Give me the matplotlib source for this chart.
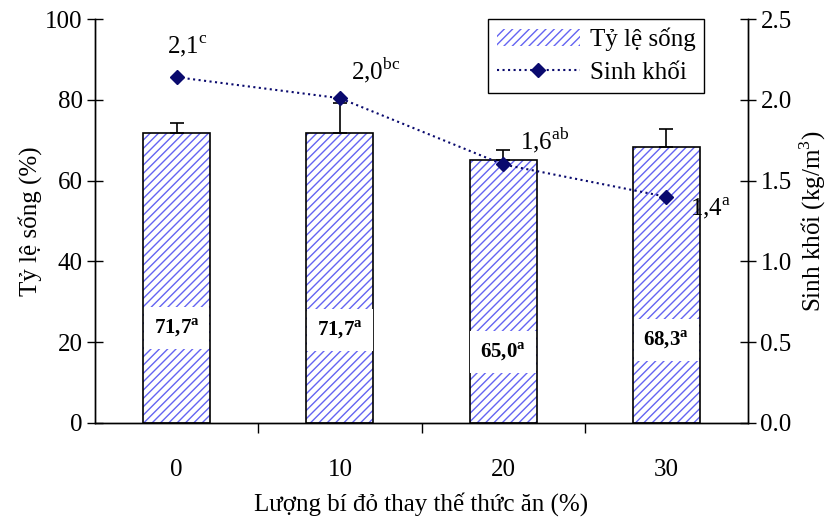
import numpy as np
import matplotlib
matplotlib.use("Agg")
from matplotlib import pyplot as plt
from matplotlib.patches import Patch
from matplotlib.lines import Line2D

plt.rcParams['font.family'] = ['Liberation Serif', 'DejaVu Serif']
plt.rcParams['mathtext.fontset'] = 'custom'
plt.rcParams['mathtext.rm'] = 'Liberation Serif'
plt.rcParams['mathtext.bf'] = 'Liberation Serif:bold'
plt.rcParams['hatch.linewidth'] = 1.0

categories = ['0', '10', '20', '30']
survival = [71.7, 71.7, 65.0, 68.3]
survival_err = [2.6, 7.5, 2.6, 4.5]
survival_text = ['71,7', '71,7', '65,0', '68,3']
survival_sig = ['a', 'a', 'a', 'a']
label_height = [23.5, 23.0, 17.6, 20.5]

biomass = [2.14, 2.01, 1.60, 1.40]
biomass_text = ['2,1', '2,0', '1,6', '1,4']
biomass_sig = ['c', 'bc', 'ab', 'a']
biomass_offset = [(8, 22), (26, 20), (30, 17), (32, -8)]

fig = plt.figure(figsize=(8.38, 5.18), dpi=100)
ax = fig.add_axes([0.1134, 0.1834, 0.7792, 0.7799])
ax2 = ax.twinx()

x = np.arange(len(categories))
w = 0.41
blue = '#6464f2'
fs = 18

ax.bar(x, survival, w, color='white', edgecolor=blue, hatch='////', linewidth=0, zorder=2)
ax.bar(x, survival, w, color='none', edgecolor='black', linewidth=1.2, zorder=3)
ax.errorbar(x, survival, yerr=[np.zeros(4), survival_err], fmt='none', ecolor='black',
            elinewidth=1.2, capsize=5, capthick=1.2, zorder=4)

for i in range(len(x)):
    ax.text(x[i], label_height[i], survival_text[i] + r'$^{\mathbf{' + survival_sig[i] + '}}$',
            ha='center', va='center', fontsize=15, fontweight='bold', zorder=5,
            bbox=dict(facecolor='white', edgecolor='none', pad=7))

ax2.plot(x, biomass, linestyle=':', color='#0a0a6e', linewidth=1.5, marker='D',
         markersize=7, zorder=6)
for i in range(len(x)):
    ax2.annotate(biomass_text[i] + r'$^{\mathrm{' + biomass_sig[i] + '}}$', (x[i], biomass[i]),
                 xytext=biomass_offset[i], textcoords='offset points',
                 ha='center', va='center', fontsize=fs)

ax.set_xlim(-0.5, 3.5)
ax.set_ylim(0, 100)
ax2.set_ylim(0, 2.5)
ax.set_yticks([0, 20, 40, 60, 80, 100])
ax2.set_yticks([0.0, 0.5, 1.0, 1.5, 2.0, 2.5])
ax2.set_yticklabels(['0.0', '0.5', '1.0', '1.5', '2.0', '2.5'])

ax.set_xticks(x)
ax.set_xticklabels(categories)
ax.set_xticks([0.5, 1.5, 2.5], minor=True)
ax.tick_params(axis='x', which='major', length=0, pad=26, labelsize=fs)
ax.tick_params(axis='x', which='minor', length=7, direction='out', width=1)
ax.tick_params(axis='y', direction='inout', length=12, width=1, labelsize=fs, pad=3)
ax2.tick_params(axis='y', direction='inout', length=12, width=1, labelsize=fs, pad=3)

for a in (ax, ax2):
    a.spines['top'].set_visible(False)
    for s in ('left', 'right', 'bottom'):
        a.spines[s].set_linewidth(1)

ax.set_xlabel('Lượng bí đỏ thay thế thức ăn (%)', fontsize=fs, labelpad=8)
ax.set_ylabel('Tỷ lệ sống (%)', fontsize=fs, labelpad=2)
ax2.set_ylabel(r'Sinh khối (kg/m$^{3}$)', fontsize=fs, labelpad=4)

handles = [Patch(facecolor='white', edgecolor=blue, hatch='////', linewidth=0),
           Line2D([], [], linestyle=':', color='#0a0a6e', linewidth=1.5, marker='D', markersize=7)]
leg = ax2.legend(handles, ['Tỷ lệ sống', 'Sinh khối'], loc='upper right',
                 bbox_to_anchor=(0.933, 1.0), borderaxespad=0, fontsize=fs, fancybox=False,
                 edgecolor='black', framealpha=1, borderpad=0.35, handlelength=3.3,
                 handletextpad=0.4, labelspacing=0.4)
leg.get_frame().set_linewidth(1)

fig.savefig('out.png', dpi=100)
